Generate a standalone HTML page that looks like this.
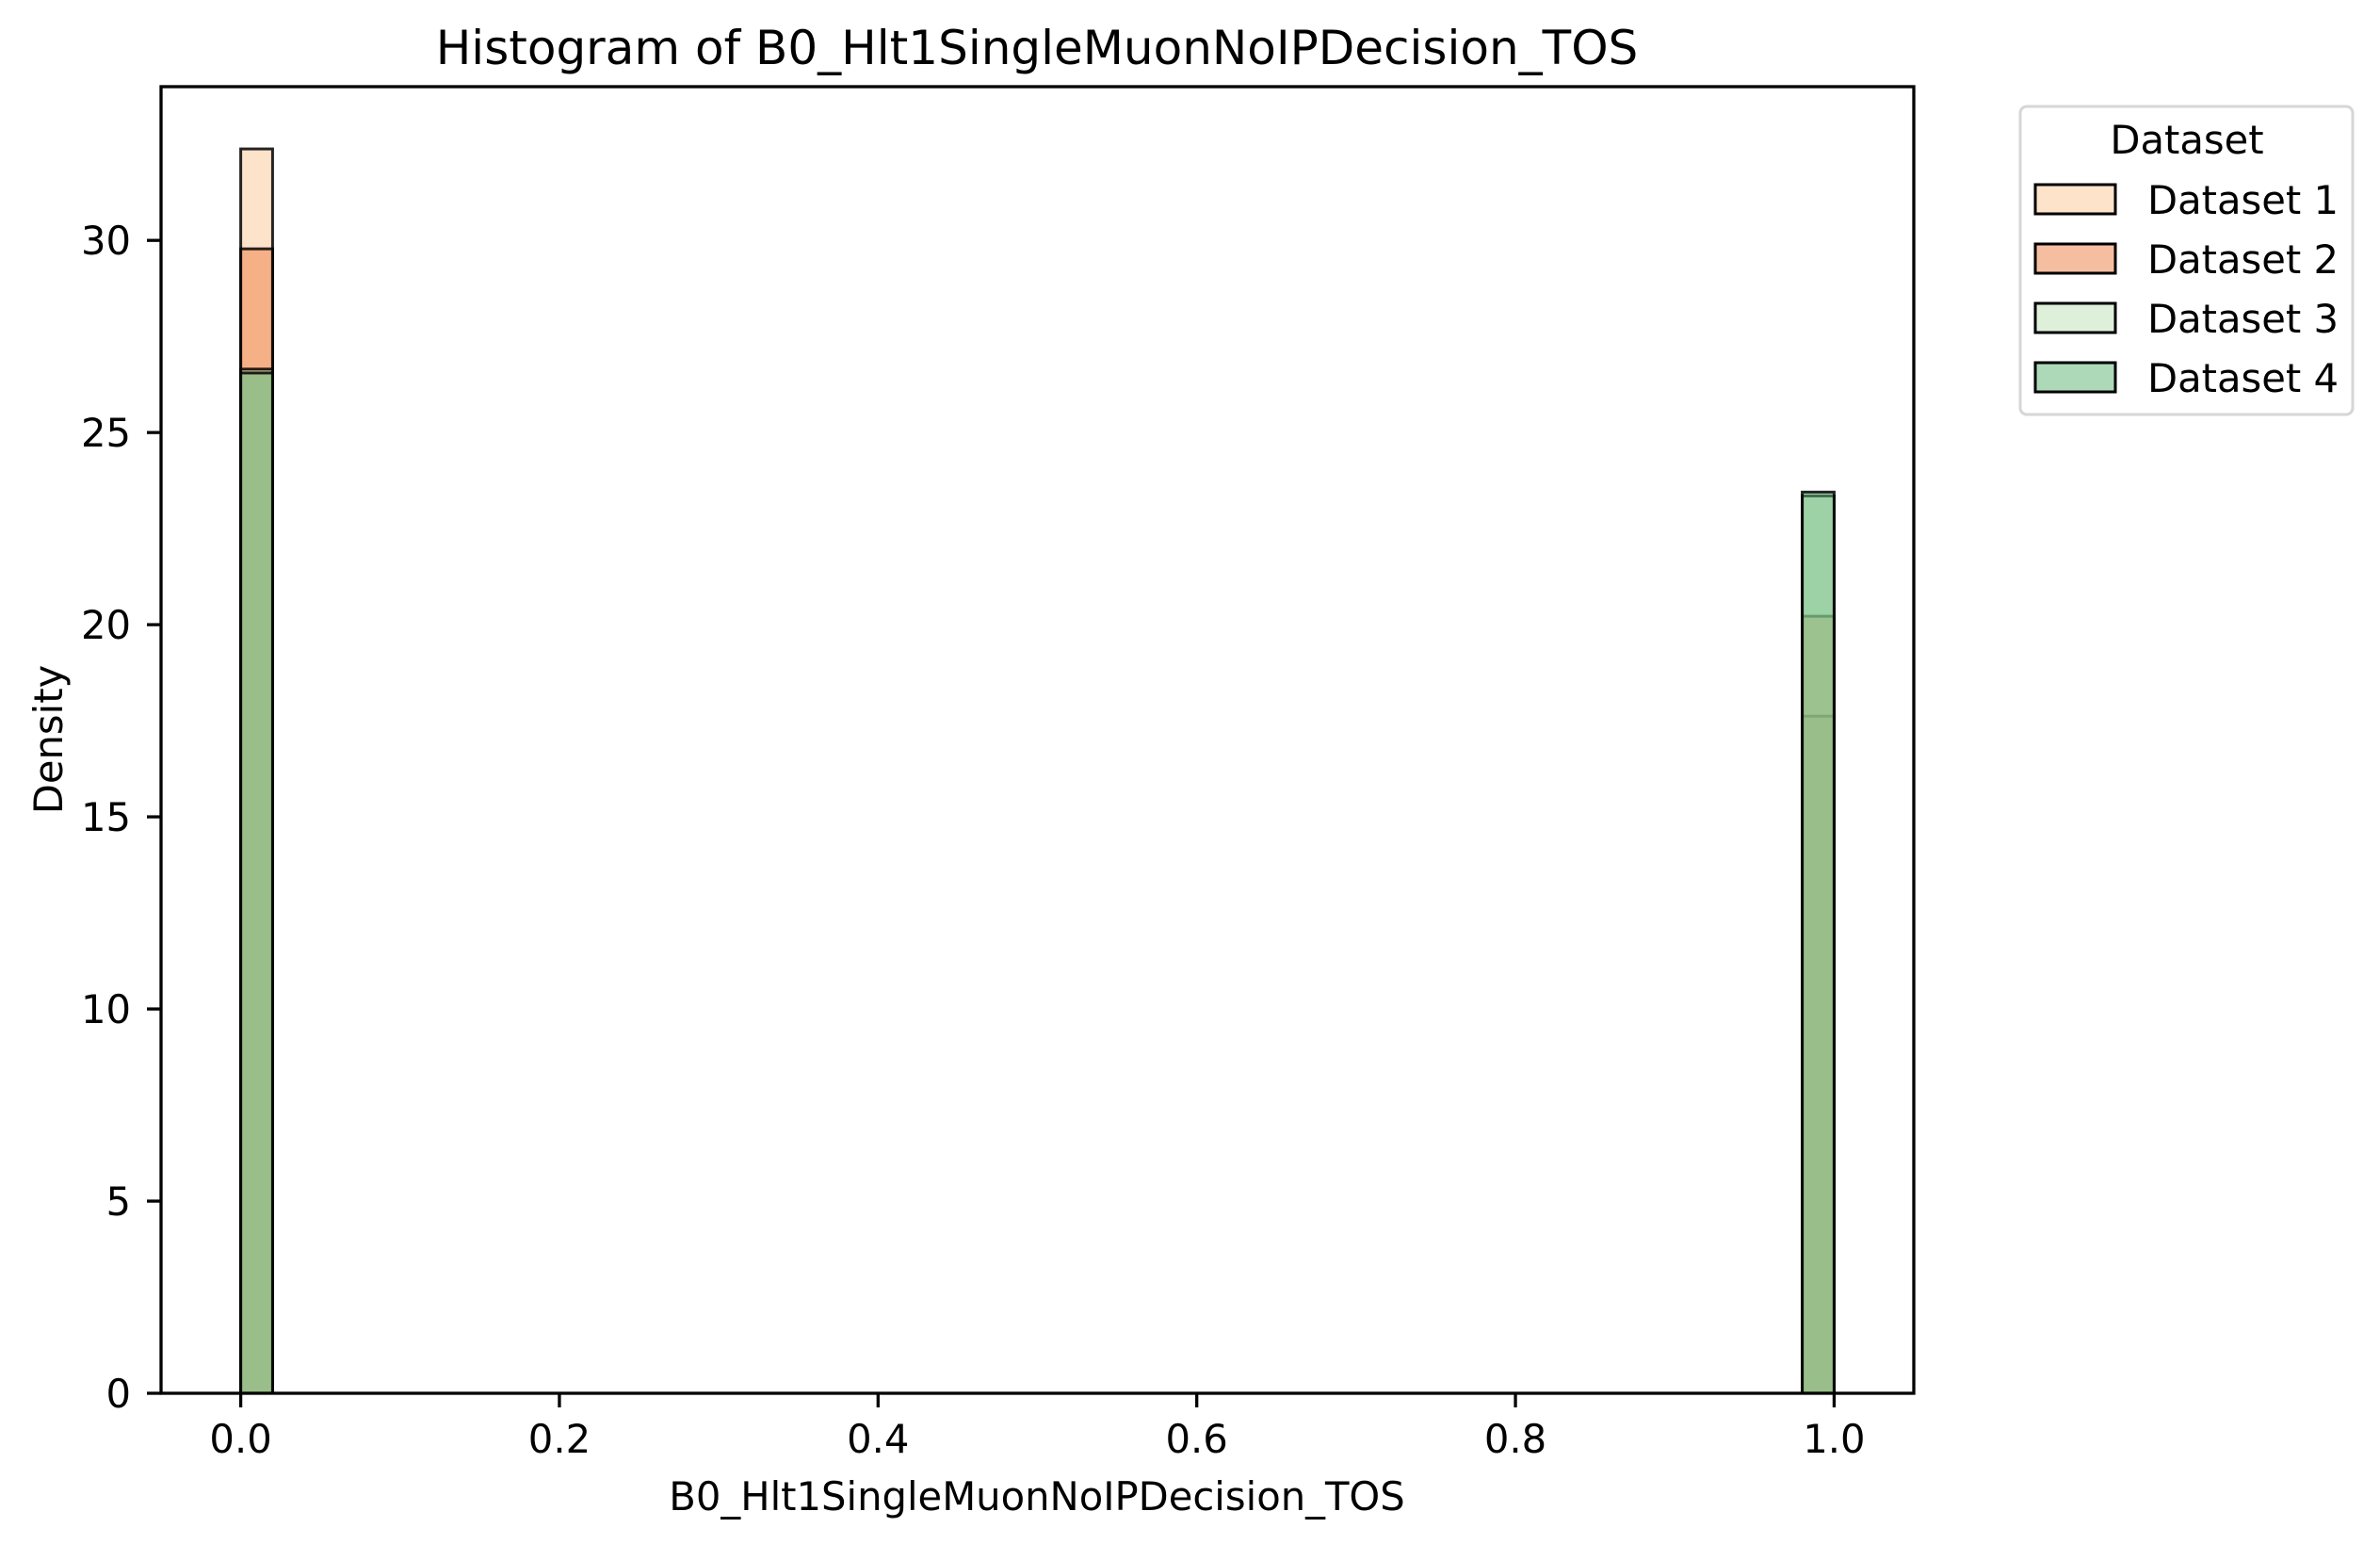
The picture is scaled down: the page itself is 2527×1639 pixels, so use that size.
<!DOCTYPE html>
<html><head><meta charset="utf-8"><style>
html,body{margin:0;padding:0;background:#fff;}
svg{display:block;font-family:"DejaVu Sans","Liberation Sans",sans-serif;}
</style></head><body>
<svg id="chart" width="2527" height="1639" viewBox="0 0 2527 1639">
<rect width="2527" height="1639" fill="#fff"/>
<text x="1101" y="68" font-size="50" text-anchor="middle">Histogram of B0_Hlt1SingleMuonNoIPDecision_TOS</text>
<g id="bars"></g>
<g id="axes"></g>
<text x="1101" y="1603" font-size="41.7" text-anchor="middle">B0_Hlt1SingleMuonNoIPDecision_TOS</text>
<text transform="translate(66,785) rotate(-90)" font-size="41.7" text-anchor="middle">Density</text>
<g>
<rect x="2145" y="113" width="353" height="327" rx="7" fill="#fff" stroke="#d6d6d6" stroke-width="3"/>
<text x="2322" y="163" font-size="41.7" text-anchor="middle">Dataset</text>
<g id="legend-items"></g>
</g>
</svg>
<script>
const categories = ["Dataset 1","Dataset 2","Dataset 3","Dataset 4"];
const binStarts = [0.0, 0.98];
const binWidth = 0.02;
const d1Values = [32.38, 17.62];
const d2Values = [29.78, 20.22];
const d3Values = [26.65, 23.35];
const d4Values = [26.55, 23.45];
const xTicks = [0.0, 0.2, 0.4, 0.6, 0.8, 1.0];
const xTickLabels = ["0.0","0.2","0.4","0.6","0.8","1.0"];
const yTicks = [0, 5, 10, 15, 20, 25, 30];
const yTickLabels = ["0","5","10","15","20","25","30"];

const colors = ["rgb(251,199,149)","rgb(237,125,65)","rgb(189,225,181)","rgb(91,179,115)"];
const series = [d1Values, d2Values, d3Values, d4Values];
const L=171, R=2032, T=92, B=1479;
const xMin=-0.05, xMax=1.05, yMin=0, yMax=34.0;
const sx = v => L + (v - xMin) / (xMax - xMin) * (R - L);
const sy = v => B - (v - yMin) / (yMax - yMin) * (B - T);
const NS="http://www.w3.org/2000/svg";
function mk(tag, attrs, parent){const e=document.createElementNS(NS,tag);for(const k in attrs)e.setAttribute(k,attrs[k]);parent.appendChild(e);return e;}

const bars=document.getElementById('bars');
series.forEach((vals,si)=>{
  vals.forEach((v,bi)=>{
    const x0=sx(binStarts[bi]), x1=sx(binStarts[bi]+binWidth);
    const r=mk('rect',{x:x0,y:sy(v),width:x1-x0,height:sy(0)-sy(v),fill:colors[si],'fill-opacity':0.5,stroke:'#000','stroke-opacity':0.85,'stroke-width':3},bars);
    
    
  });
});

const axes=document.getElementById('axes');
const frame=mk('rect',{x:L,y:T,width:R-L,height:B-T,fill:'none',stroke:'#000','stroke-width':3.3},axes);


xTicks.forEach((t,i)=>{
  const x=sx(t);
  const tk=mk('line',{x1:x,x2:x,y1:B,y2:B+15,stroke:'#000','stroke-width':3.3},axes);
  
  
  const lb=mk('text',{x:x,y:1542,'font-size':41.7,'text-anchor':'middle'},axes);
  lb.textContent=xTickLabels[i];
  
  
});
yTicks.forEach((t,i)=>{
  const y=sy(t);
  const tk=mk('line',{x1:L-15,x2:L,y1:y,y2:y,stroke:'#000','stroke-width':3.3},axes);
  
  
  const lb=mk('text',{x:139,y:y+15,'font-size':41.7,'text-anchor':'end'},axes);
  lb.textContent=yTickLabels[i];
  
  
});

const leg=document.getElementById('legend-items');
categories.forEach((c,i)=>{
  const y=196+i*63;
  const g=mk('g',{},leg);
  
  
  const r=mk('rect',{x:2161,y:y,width:85,height:31,fill:colors[i],'fill-opacity':0.5,stroke:'#000','stroke-width':3},g);
  
  
  const t=mk('text',{x:2280,y:y+31,'font-size':41.7},g);
  t.textContent=c;
  
  
});
</script>
</body></html>
